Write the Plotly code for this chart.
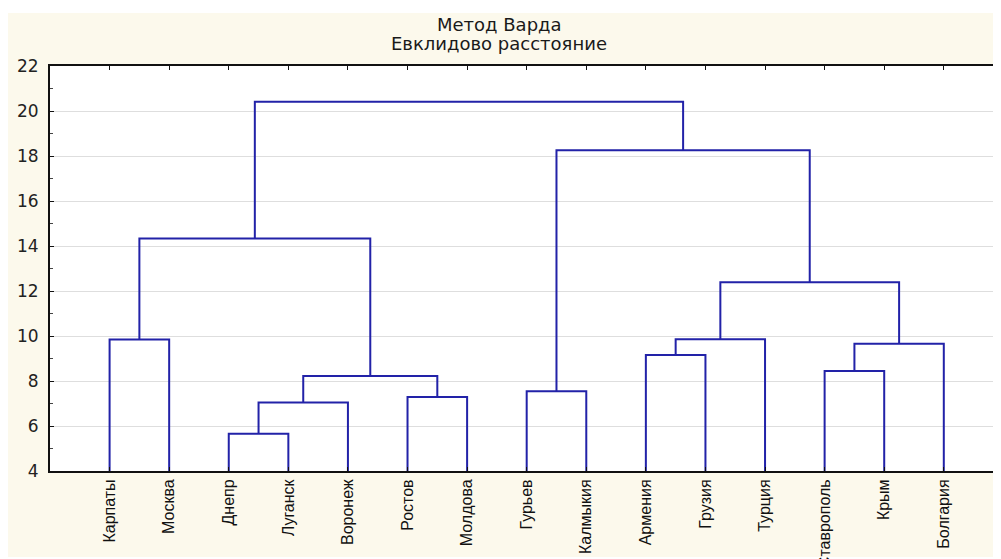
import plotly.graph_objects as go

# ---- data ----
leaves = ["Карпаты", "Москва", "Днепр", "Луганск", "Воронеж", "Ростов", "Молдова",
          "Гурьев", "Калмыкия", "Армения", "Грузия", "Турция", "Ставрополь", "Крым", "Болгария"]
# merges: child ids (0..14 leaves, 15+k = merge k) and linkage distance
link_left = [2, 15, 5, 7, 16, 12, 9, 20, 0, 21, 24, 23, 18, 26]
link_right = [3, 4, 6, 8, 17, 13, 10, 14, 1, 11, 22, 19, 25, 27]
link_height = [5.66, 7.05, 7.29, 7.54, 8.22, 8.45, 9.16, 9.66, 9.84, 9.86, 12.39, 14.33, 18.26, 20.41]

title_line1 = "Метод Варда"
title_line2 = "Евклидово расстояние"
y_ticks = [4, 6, 8, 10, 12, 14, 16, 18, 20, 22]

# ---- build dendrogram geometry from the merge table ----
n = len(leaves)
pos = {i: i + 1 for i in range(n)}
hgt = {i: 0.0 for i in range(n)}
xs, ys = [], []
for k, (a, b, h) in enumerate(zip(link_left, link_right, link_height)):
    xa, xb = pos[a], pos[b]
    xs += [xa, xa, xb, xb, None]
    ys += [hgt[a], h, h, hgt[b], None]
    pos[n + k] = (xa + xb) / 2
    hgt[n + k] = h

LINE = "#2222A8"
fig = go.Figure()
fig.add_trace(go.Scatter(x=xs, y=ys, mode="lines",
                         line=dict(color=LINE, width=2), hoverinfo="skip",
                         showlegend=False))

# page body has an 8px margin; figure coordinates are page coordinates - 8
OFF = 8
W, H = 1001 - OFF, 559 - OFF
ML, MR, MT, MB = 42, 0, 58, 88
pw, ph = W - ML - MR, H - MT - MB

def px_to_paper_x(px):  # px in page coordinates
    return (px - OFF - ML) / pw

def px_to_paper_y(py):
    return (H - MB - (py - OFF)) / ph

CREAM = "#FCF9EC"
fig.add_shape(type="rect", xref="paper", yref="paper",
              x0=px_to_paper_x(7), x1=px_to_paper_x(1010),
              y0=px_to_paper_y(557), y1=px_to_paper_y(13),
              fillcolor=CREAM, line_width=0, layer="below")
fig.add_shape(type="rect", xref="paper", yref="paper",
              x0=0, x1=1, y0=0, y1=1,
              fillcolor="white", line_width=0, layer="below")

fig.add_annotation(text=title_line1, xref="paper", yref="paper",
                   x=px_to_paper_x(499), y=px_to_paper_y(24),
                   xanchor="center", yanchor="middle", showarrow=False,
                   font=dict(family="DejaVu Sans", size=18, color="#1a1a1a"))
fig.add_annotation(text=title_line2, xref="paper", yref="paper",
                   x=px_to_paper_x(499), y=px_to_paper_y(43),
                   xanchor="center", yanchor="middle", showarrow=False,
                   font=dict(family="DejaVu Sans", size=18, color="#1a1a1a"))

fig.update_xaxes(range=[0, 15.96], tickvals=list(range(1, n + 1)), ticktext=leaves,
                 tickangle=-90, ticks="inside", ticklen=4, tickcolor="#111",
                 showline=True, linecolor="#111", linewidth=2, mirror="ticks",
                 showgrid=False, zeroline=False, automargin=False,
                 tickfont=dict(family="Liberation Sans", size=16, color="#111"))
fig.update_yaxes(range=[4, 22], tickvals=y_ticks, ticks="inside", ticklen=4,
                 tickcolor="#111", showline=True, linecolor="#111", linewidth=2,
                 mirror="ticks", showgrid=True, gridcolor="#DEDEDE", gridwidth=1,
                 zeroline=False, ticklabelstandoff=6, automargin=False,
                 minor=dict(dtick=1, ticks="inside", ticklen=3, tickcolor="#444", showgrid=False),
                 tickfont=dict(family="DejaVu Sans", size=17, color="#222"))

fig.update_layout(width=W, height=H, margin=dict(l=ML, r=MR, t=MT, b=MB),
                  paper_bgcolor="white", plot_bgcolor="white")

fig.write_html("out.html")
